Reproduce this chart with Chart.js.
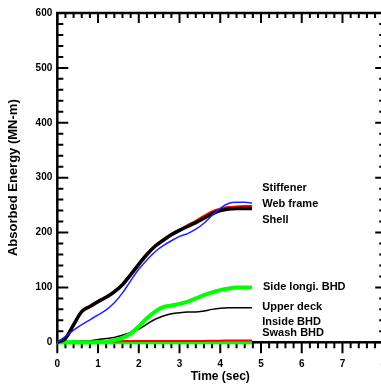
<!DOCTYPE html>
<html>
<head>
<meta charset="utf-8">
<script src="https://cdn.jsdelivr.net/npm/chart.js@4.4.1/dist/chart.umd.min.js"></script>
<style>
    html, body { margin: 0; padding: 0; background: #fff; overflow: hidden; }
    #wrap { width: 402px; height: 390px; }
</style>
</head>
<body>
<div id="wrap"><canvas id="energy-chart" width="402" height="390"></canvas></div>
<script>
// Sampled times (sec)
const times = [0, 0.2, 0.4, 0.6, 0.8, 1.0, 1.2, 1.4, 1.6, 1.8, 2.0, 2.2, 2.4, 2.6, 2.8, 3.0,
               3.2, 3.4, 3.6, 3.8, 4.0, 4.2, 4.4, 4.6, 4.78];

// Absorbed energy (MN-m) per member
const stiffener = [0, 11, 22, 32, 41, 50, 59, 72, 90, 112, 133, 150, 165, 176, 185, 193,
                   198, 206, 217, 231, 244, 253, 255, 255, 254];
const webFrame  = [0, 7, 32, 57, 66, 75, 83, 93, 106, 124, 143, 161, 176, 187, 197, 205,
                   213, 221, 230, 238, 243, 246, 247, 248, 248];
const shell     = [0, 7, 32, 56, 65, 74, 82, 92, 105, 123, 142, 160, 175, 186, 196, 204,
                   211, 218, 226, 234, 240, 243, 244, 244, 244];
const sideLongi = [0, 0, 0, 0, 0, 0.5, 1, 4, 8, 16, 29, 44, 56, 64, 67, 70,
                   74, 80, 86, 91, 95, 98, 100, 100, 100];
const upperDeck = [0, 0.5, 1, 2, 3, 5, 7, 9, 13, 18, 24, 33, 42, 48, 52, 54,
                   55, 55, 57, 60, 62, 63, 63, 63, 63];
const insideBhd = [0, 0, 0, 0, 0, 0, 0, 0, 0, 0, 0, 0, 0, 0, 0, 0,
                   0, 0, 0, 0, 0, 0, 0, 0, 0];
const swashBhd  = [0, 0, 0, 0, 0, 0.5, 1, 1.5, 2, 2.5, 2.5, 2.5, 2.5, 2.5, 2.5, 2.5,
                   2.5, 2.5, 2.5, 3, 3, 3.5, 3.5, 3.5, 3.5];

// Axis ranges and ticks
const xMin = 0, xMax = 8, xMajor = 1, xMinor = 0.2;
const yMin = 0, yMax = 600, yMajor = 100, yMinor = 20;

// Text labels next to the curve ends: [text, time, energy]
const curveLabels = [
    ['Stiffener', 5.03, 281],
    ['Web frame', 5.03, 252],
    ['Shell', 5.03, 223],
    ['Side longi. BHD', 5.05, 101],
    ['Upper deck', 5.03, 64],
    ['Inside BHD', 5.03, 37],
    ['Swash BHD', 5.03, 17]
];

const pts = vals => times.map((t, i) => ({x: t, y: vals[i]}));

function series(label, vals, color, width, order) {
    return {
        label: label,
        data: pts(vals),
        borderColor: color,
        backgroundColor: color,
        borderWidth: width,
        pointRadius: 0,
        cubicInterpolationMode: 'monotone',
        clip: false,
        order: order
    };
}

/**
 * Box frame with tick marks (inward on left/top/right, outward on bottom)
 */
const frameTicks = {
    id: 'frameTicks',
    beforeDatasetsDraw(chart) {
        const {ctx, chartArea: a, scales: {x, y}} = chart;
        ctx.save();
        ctx.strokeStyle = '#000';
        ctx.lineWidth = 2;
        ctx.beginPath();
        const nx = Math.round((xMax - xMin) / xMinor);
        for (let i = 0; i <= nx; i++) {
            const px = x.getPixelForValue(xMin + i * xMinor);
            const major = i % Math.round(xMajor / xMinor) === 0;
            ctx.moveTo(px, a.bottom);
            ctx.lineTo(px, a.bottom + (major ? 11 : 6));
            ctx.moveTo(px, a.top);
            ctx.lineTo(px, a.top + (major ? 10 : 5));
        }
        const ny = Math.round((yMax - yMin) / yMinor);
        for (let i = 0; i <= ny; i++) {
            const py = y.getPixelForValue(yMin + i * yMinor);
            const major = i % Math.round(yMajor / yMinor) === 0;
            ctx.moveTo(a.left, py);
            ctx.lineTo(a.left + (major ? 11 : 6), py);
            ctx.moveTo(a.right, py);
            ctx.lineTo(a.right - (major ? 8 : 4), py);
        }
        ctx.stroke();
        ctx.lineWidth = 2.5;
        ctx.strokeRect(a.left, a.top, a.right - a.left, a.bottom - a.top);
        ctx.restore();
    }
};

/**
 * Curve names written beside the curves
 */
const curveText = {
    id: 'curveText',
    afterDraw(chart) {
        const {ctx, scales: {x, y}} = chart;
        ctx.save();
        ctx.fillStyle = '#000';
        ctx.font = 'bold 11px "Liberation Sans", Arial, sans-serif';
        ctx.textAlign = 'left';
        ctx.textBaseline = 'middle';
        curveLabels.forEach(([text, t, e]) => {
            ctx.fillText(text, x.getPixelForValue(t), y.getPixelForValue(e));
        });
        ctx.restore();
    }
};

const tickFont = {family: '"Liberation Sans", Arial, sans-serif', size: 10, weight: 'bold'};

new Chart(document.getElementById('energy-chart').getContext('2d'), {
    type: 'line',
    data: {
        datasets: [
            series('Stiffener', stiffener, '#1f1fff', 1.5, 1),
            series('Shell', shell, '#000000', 3.5, 2),
            series('Web frame', webFrame, '#ff0000', 2.5, 3),
            series('Side longi. BHD', sideLongi, '#00ff00', 4, 4),
            series('Upper deck', upperDeck, '#000000', 1.5, 5),
            series('Swash BHD', swashBhd, '#ff0000', 2, 6),
            series('Inside BHD', insideBhd, '#00ff00', 4, 7)
        ]
    },
    options: {
        responsive: false,
        animation: false,
        layout: {padding: {top: 13, right: 7.8, left: 0, bottom: 0}},
        plugins: {
            legend: {display: false},
            tooltip: {enabled: false}
        },
        scales: {
            x: {
                type: 'linear',
                min: xMin,
                max: xMax,
                grid: {display: false, drawTicks: false},
                border: {display: false},
                ticks: {
                    stepSize: xMajor,
                    autoSkip: false,
                    maxRotation: 0,
                    padding: 16,
                    color: '#000',
                    font: tickFont
                },
                title: {
                    display: true,
                    text: 'Time (sec)',
                    color: '#000',
                    padding: {top: 0, bottom: 6},
                    font: {family: tickFont.family, size: 12, weight: 'bold'}
                },
                afterFit: scale => { scale.height = 47.7; }
            },
            y: {
                type: 'linear',
                min: yMin,
                max: yMax,
                grid: {display: false, drawTicks: false},
                border: {display: false},
                ticks: {
                    stepSize: yMajor,
                    padding: 5,
                    color: '#000',
                    font: tickFont
                },
                title: {
                    display: true,
                    text: 'Absorbed Energy (MN-m)',
                    color: '#000',
                    padding: {top: 6, bottom: 0},
                    font: {family: tickFont.family, size: 13, weight: 'bold'}
                },
                afterFit: scale => { scale.width = 57.3; }
            }
        }
    },
    plugins: [frameTicks, curveText]
});
</script>
</body>
</html>
